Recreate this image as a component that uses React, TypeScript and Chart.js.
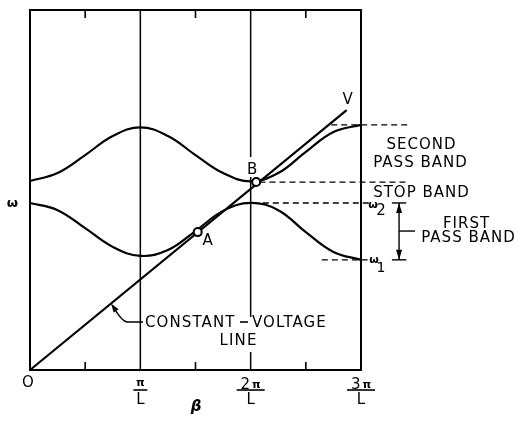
import React, { useEffect, useRef } from "react";
import { Chart, registerables } from "chart.js";

Chart.register(...registerables);

// β in units of π/L
const betaGrid = [0, 0.25, 0.5, 0.75, 1, 1.25, 1.5, 1.75, 2, 2.25, 2.5, 2.75, 3];
// ω (arbitrary units, 0..10)
const upperBand = [5.25, 5.47, 5.97, 6.5, 6.74, 6.5, 5.97, 5.47, 5.24, 5.47, 6.06, 6.61, 6.81];
const lowerBand = [4.64, 4.44, 3.94, 3.42, 3.17, 3.33, 3.86, 4.42, 4.64, 4.44, 3.83, 3.28, 3.06];

const voltageBeta = [0, 2.87];
const voltageOmega = [0, 7.22];

const pointNames = ["A", "B"];
const pointBeta = [1.52, 2.05];
const pointOmega = [3.83, 5.22];

const xTickValues = [0, 1, 2, 3];
const xTickNumerators = ["O", "π", "2π", "3π"];
const xTickDenominators = ["", "L", "L", "L"];
const gridBetas = [1, 2];
const minorBetas = [0.5, 1.5, 2.5];
const minorTickLen = 0.22;

const omegaMin = 0;
const omegaMax = 10;
const betaMin = 0;
const betaMax = 3;

// dashed band-edge lines
const dashLevels = [6.81, 5.22, 4.64, 3.06];
const dashFrom = [2.73, 2.08, 2.11, 2.645];
const dashTo = [3.42, 3.42, 3.09, 3.06];

// first pass band dimension arrow
const arrowBeta = 3.345;
const arrowTop = 4.64;
const arrowBottom = 3.06;
const capFrom = 3.28;
const capTo = 3.41;
const leaderOmega = 3.86;
const leaderTo = 3.49;

// constant-voltage leader arrow tip (on the line)
const cvTipBeta = 0.734;

const FONT = '"DejaVu Sans", sans-serif';

function lineSeg(x0: number, y0: number, x1: number, y1: number) {
  return [
    { x: x0, y: y0 },
    { x: x1, y: y1 },
  ];
}

const annotPlugin = {
  id: "annot",
  beforeDatasetsDraw(chart: any) {
    const { ctx, chartArea } = chart;
    ctx.save();
    ctx.strokeStyle = "#000";
    ctx.lineWidth = 2;
    ctx.strokeRect(chartArea.left, chartArea.top, chartArea.right - chartArea.left, chartArea.bottom - chartArea.top);
    ctx.restore();
  },
  afterDatasetsDraw(chart: any) {
    const { ctx } = chart;
    const xs = chart.scales.x;
    const ys = chart.scales.y;
    const X = (v: number) => xs.getPixelForValue(v);
    const Y = (v: number) => ys.getPixelForValue(v);
    ctx.save();

    // gaps in 2π/L line where text sits
    ctx.fillStyle = "#fff";
    ctx.fillRect(X(2) - 5, 157, 10, 20);
    ctx.fillRect(X(2) - 5, 317, 10, 35);

    const txt = (s: string, x: number, y: number, size = 15, align: CanvasTextAlign = "center", spacing = 1, extra = "") => {
      ctx.font = `${extra}${size}px ${FONT}`;
      (ctx as any).letterSpacing = `${spacing}px`;
      ctx.textAlign = align;
      ctx.textBaseline = "alphabetic";
      ctx.fillStyle = "#000";
      const dx = align === "center" ? spacing / 2 : 0;
      ctx.fillText(s, x + dx, y);
    };

    // V label at the line's end
    txt("V", X(voltageBeta[1]) + 1, Y(voltageOmega[1]) - 6, 15);

    // point labels
    txt(pointNames[0], X(pointBeta[0]) + 10, Y(pointOmega[0]) + 13, 15);
    txt(pointNames[1], X(pointBeta[1]) - 4, Y(pointOmega[1]) - 8, 15);

    // band labels
    txt("SECOND", 421, 149);
    txt("PASS BAND", 420, 167);
    txt("STOP BAND", 421, 197);
    txt("FIRST", 466, 228);
    txt("PASS BAND", 468, 241.5);

    // ω2 / ω1
    txt("ω", 373, 208, 11, "center", 0, "bold ");
    txt("2", 381, 215, 15, "center", 0);
    txt("ω", 374, 263, 11, "center", 0, "bold ");
    txt("1", 381, 272, 14, "center", 0);

    // constant voltage label
    txt("CONSTANT", 145, 327, 15, "left", 1.1);
    ctx.lineWidth = 1.6;
    ctx.strokeStyle = "#000";
    ctx.beginPath();
    ctx.moveTo(240, 322);
    ctx.lineTo(248, 322);
    ctx.stroke();
    txt("VOLTAGE", 252, 327, 15, "left", 1.1);
    txt("LINE", 238, 345, 15, "center", 1.1);

    // leader arrow to constant-voltage line
    const tx = X(cvTipBeta);
    const ty = Y(cvTipBeta * (voltageOmega[1] / voltageBeta[1]));
    ctx.lineWidth = 1.4;
    ctx.beginPath();
    ctx.moveTo(143, 322);
    ctx.lineTo(127, 322);
    ctx.quadraticCurveTo(122, 321, tx + 4, ty + 6);
    ctx.stroke();
    {
      const ang = Math.atan2(ty - (ty + 10), tx - (tx + 7));
      const L = 9, W = 3;
      ctx.beginPath();
      ctx.moveTo(tx, ty);
      ctx.lineTo(tx - L * Math.cos(ang) + W * Math.sin(ang), ty - L * Math.sin(ang) - W * Math.cos(ang));
      ctx.lineTo(tx - L * Math.cos(ang) - W * Math.sin(ang), ty - L * Math.sin(ang) + W * Math.cos(ang));
      ctx.closePath();
      ctx.fillStyle = "#000";
      ctx.fill();
    }

    // dimension arrow heads
    const ax = X(arrowBeta);
    const at = Y(arrowTop);
    const ab = Y(arrowBottom);
    ctx.fillStyle = "#000";
    ctx.beginPath();
    ctx.moveTo(ax, at);
    ctx.lineTo(ax - 3, at + 10);
    ctx.lineTo(ax + 3, at + 10);
    ctx.closePath();
    ctx.fill();
    ctx.beginPath();
    ctx.moveTo(ax, ab);
    ctx.lineTo(ax - 3, ab - 10);
    ctx.lineTo(ax + 3, ab - 10);
    ctx.closePath();
    ctx.fill();

    // x tick labels (fractions)
    xTickValues.forEach((v, i) => {
      const x = X(v);
      if (!xTickDenominators[i]) {
        txt(xTickNumerators[i], x - 2, 387, 15, "center", 0);
        return;
      }
      const num = xTickNumerators[i];
      if (num === "π") {
        txt(num, x, 386, 11, "center", 0, "bold ");
      } else {
        ctx.font = `15px ${FONT}`;
        (ctx as any).letterSpacing = "0px";
        const w2 = ctx.measureText(num[0]).width;
        ctx.font = `bold 11px ${FONT}`;
        const wp = ctx.measureText("π").width;
        const total = w2 + 2 + wp;
        const left = x - total / 2;
        txt(num[0], left, 389, 15, "left", 0);
        txt("π", left + w2 + 2, 388, 11, "left", 0, "bold ");
      }
      const half = num === "π" ? 7 : 14;
      ctx.lineWidth = 1.6;
      ctx.strokeStyle = "#000";
      ctx.beginPath();
      ctx.moveTo(x - half, 390);
      ctx.lineTo(x + half, 390);
      ctx.stroke();
      txt(xTickDenominators[i], x, 404, 15, "center", 0);
    });

    // axis titles
    txt("β", 196, 411, 15, "center", 0, "italic bold ");
    txt("ω", 12.5, 207, 13, "center", 0, "bold ");

    ctx.restore();
  },
};

export default function App() {
  const ref = useRef<HTMLCanvasElement>(null);
  useEffect(() => {
    if (!ref.current) return;
    const black = "#000";
    const datasets: any[] = [];

    datasets.push({
      label: "points",
      type: "scatter",
      data: pointBeta.map((b, i) => ({ x: b, y: pointOmega[i] })),
      pointRadius: 4,
      pointBorderWidth: 2,
      pointBackgroundColor: "#fff",
      pointBorderColor: black,
      showLine: false,
    });
    datasets.push({
      label: "upper",
      data: betaGrid.map((b, i) => ({ x: b, y: upperBand[i] })),
      borderColor: black,
      borderWidth: 2.2,
      tension: 0.4,
    });
    datasets.push({
      label: "lower",
      data: betaGrid.map((b, i) => ({ x: b, y: lowerBand[i] })),
      borderColor: black,
      borderWidth: 2.2,
      tension: 0.4,
    });
    datasets.push({
      label: "voltage",
      data: voltageBeta.map((b, i) => ({ x: b, y: voltageOmega[i] })),
      borderColor: black,
      borderWidth: 2.2,
    });
    dashLevels.forEach((lv, i) => {
      datasets.push({
        label: "dash" + i,
        data: lineSeg(dashFrom[i], lv, dashTo[i], lv),
        borderColor: black,
        borderWidth: 1.4,
        borderDash: [6, 4],
      });
    });
    datasets.push({
      label: "arrow",
      data: lineSeg(arrowBeta, arrowTop, arrowBeta, arrowBottom),
      borderColor: black,
      borderWidth: 1.4,
    });
    [arrowTop, arrowBottom].forEach((lv, i) => {
      datasets.push({
        label: "cap" + i,
        data: lineSeg(capFrom, lv, capTo, lv),
        borderColor: black,
        borderWidth: 1.4,
      });
    });
    datasets.push({
      label: "leader",
      data: lineSeg(arrowBeta, leaderOmega, leaderTo, leaderOmega),
      borderColor: black,
      borderWidth: 1.4,
    });
    minorBetas.forEach((b, i) => {
      datasets.push({
        label: "mtb" + i,
        data: lineSeg(b, omegaMin, b, omegaMin + minorTickLen),
        borderColor: black,
        borderWidth: 1.6,
      });
      datasets.push({
        label: "mtt" + i,
        data: lineSeg(b, omegaMax, b, omegaMax - minorTickLen),
        borderColor: black,
        borderWidth: 1.6,
      });
    });
    gridBetas.forEach((b, i) => {
      datasets.push({
        label: "grid" + i,
        data: lineSeg(b, omegaMin, b, omegaMax),
        borderColor: black,
        borderWidth: 1.5,
      });
    });

    datasets.forEach((d) => {
      d.clip = false;
      if (d.type !== "scatter") {
        d.pointRadius = 0;
        d.fill = false;
      }
    });

    const chart = new Chart(ref.current, {
      type: "line",
      data: { datasets },
      options: {
        animation: false,
        responsive: true,
        maintainAspectRatio: false,
        layout: { padding: { left: 30, top: 10, right: 156, bottom: 51 } },
        plugins: { legend: { display: false }, tooltip: { enabled: false } },
        scales: {
          x: { type: "linear", min: betaMin, max: betaMax, display: false },
          y: { type: "linear", min: omegaMin, max: omegaMax, display: false },
        },
      },
      plugins: [annotPlugin],
    } as any);
    return () => chart.destroy();
  }, []);

  return (
    <div style={{ position: "absolute", left: 0, top: 0, width: 517, height: 421, background: "#fff" }}>
      <canvas ref={ref} />
    </div>
  );
}
